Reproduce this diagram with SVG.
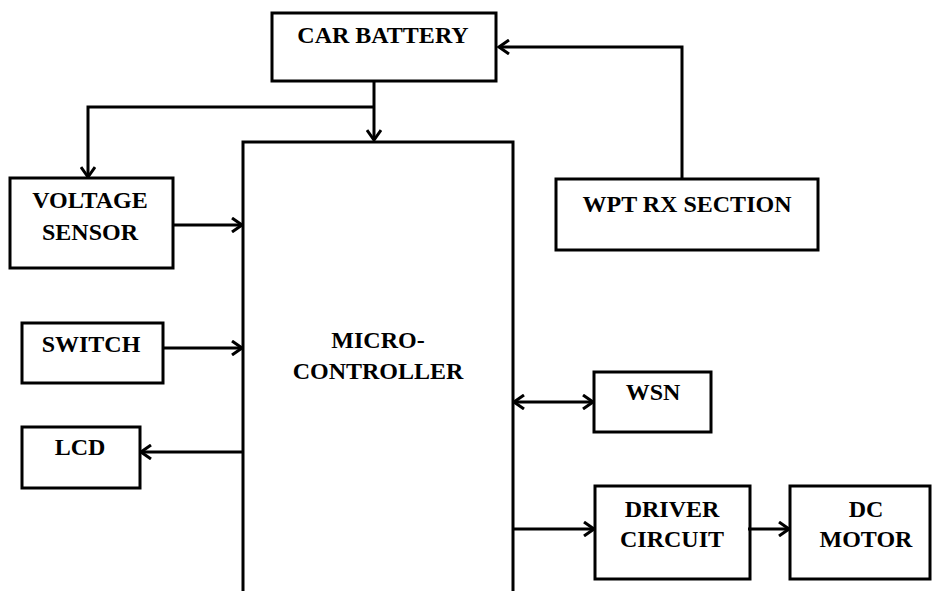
<svg xmlns="http://www.w3.org/2000/svg" width="934" height="591" viewBox="0 0 934 591">
<style>
.box{fill:#fff;stroke:#000;stroke-width:3}
.lbl{font-family:"Liberation Serif","Times New Roman",serif;font-weight:bold;font-size:24px;fill:#000;text-anchor:middle}
.wire{fill:none;stroke:#000;stroke-width:3}
</style>
<defs>
<marker id="ah" markerUnits="userSpaceOnUse" markerWidth="14" markerHeight="16" viewBox="0 0 14 16" refX="12" refY="8" orient="auto-start-reverse">
<path d="M2,1 L12,8 L2,15" fill="none" stroke="#000" stroke-width="3"/>
</marker>
</defs>
<rect width="934" height="591" fill="#fff"/>
<g id="car-battery"><rect class="box" x="272" y="13" width="224" height="68"/><text class="lbl" x="383" y="43">CAR BATTERY</text></g>
<g id="wpt-rx"><rect class="box" x="556" y="179" width="262" height="71"/><text class="lbl" x="687" y="212">WPT RX SECTION</text></g>
<g id="microcontroller"><path class="wire" d="M243,600 V142 H513 V600"/><text class="lbl" x="378" y="348">MICRO-</text><text class="lbl" x="378" y="379">CONTROLLER</text></g>
<g id="voltage-sensor"><rect class="box" x="10" y="178" width="163" height="90"/><text class="lbl" x="90" y="208">VOLTAGE</text><text class="lbl" x="90" y="240">SENSOR</text></g>
<g id="switch"><rect class="box" x="22" y="323" width="141" height="60"/><text class="lbl" x="91" y="352">SWITCH</text></g>
<g id="lcd"><rect class="box" x="22" y="427" width="118" height="61"/><text class="lbl" x="80" y="455">LCD</text></g>
<g id="wsn"><rect class="box" x="594" y="372" width="117" height="60"/><text class="lbl" x="653" y="400">WSN</text></g>
<g id="driver"><rect class="box" x="595" y="486" width="155" height="93"/><text class="lbl" x="672" y="517">DRIVER</text><text class="lbl" x="672" y="547">CIRCUIT</text></g>
<g id="dc-motor"><rect class="box" x="790" y="486" width="140" height="93"/><text class="lbl" x="866" y="517">DC</text><text class="lbl" x="866" y="547">MOTOR</text></g>
<g id="connectors">
<path class="wire" d="M682,179 V47 H499" marker-end="url(#ah)"/>
<path class="wire" d="M374,81 V140" marker-end="url(#ah)"/>
<path class="wire" d="M374,107 H88 V177" marker-end="url(#ah)"/>
<path class="wire" d="M173,225 H242" marker-end="url(#ah)"/>
<path class="wire" d="M163,348 H242" marker-end="url(#ah)"/>
<path class="wire" d="M243,452 H141" marker-end="url(#ah)"/>
<path class="wire" d="M514,402 H593" marker-start="url(#ah)" marker-end="url(#ah)"/>
<path class="wire" d="M513,529 H594" marker-end="url(#ah)"/>
<path class="wire" d="M748,529 H789" marker-end="url(#ah)"/>
</g>
</svg>
